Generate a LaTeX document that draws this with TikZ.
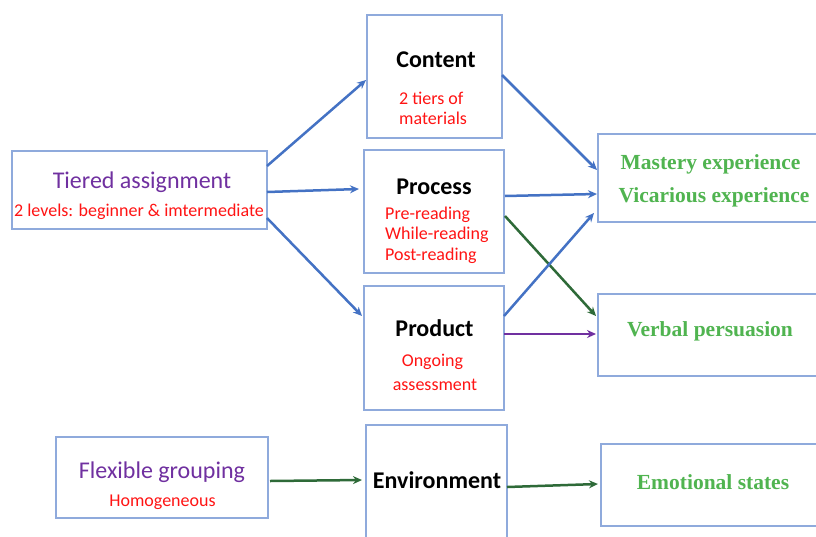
\documentclass[tikz,border=0pt]{standalone}
\usepackage{fontspec}
\setmainfont{Carlito}
\newfontfamily\greenserif{Liberation Serif}
\usetikzlibrary{arrows.meta}
\definecolor{boxblue}{RGB}{143,170,220}
\definecolor{arrblue}{RGB}{68,114,196}
\definecolor{darkgr}{RGB}{46,106,56}
\definecolor{purp}{RGB}{112,48,160}
\definecolor{redt}{RGB}{255,20,20}
\definecolor{greent}{RGB}{80,180,80}
\tikzset{
  box/.style={draw=boxblue, line width=1.4pt, inner sep=0pt, outer sep=0pt},
  arr/.style={-{Stealth[length=9pt,width=8pt]}, line width=2.5pt},
  head/.style={font=\fontsize{24}{28}\selectfont\bfseries, text=black, inner sep=0pt},
  lead/.style={font=\fontsize{24}{28}\selectfont, text=purp, inner sep=0pt},
  sub/.style={font=\fontsize{18}{21}\selectfont, text=redt, inner sep=0pt},
  outc/.style={font=\fontsize{21.5}{25}\selectfont\greenserif\bfseries, text=greent, inner sep=0pt}
}
\begin{document}
\begin{tikzpicture}[x=1pt,y=-1pt]
\useasboundingbox[fill=white] (0,0) rectangle (816,536);
\clip (0,0) rectangle (816,536);
% boxes
\node[box, minimum width=255pt, minimum height=78pt] (tiered) at (139.5,190) {};
\node[box, minimum width=212pt, minimum height=81pt] (flex) at (162,477.5) {};
\node[box, minimum width=135pt, minimum height=123pt] (content) at (434.5,76.5) {};
\node[box, minimum width=140pt, minimum height=123pt] (process) at (434,211.5) {};
\node[box, minimum width=140pt, minimum height=124pt] (product) at (434,348) {};
\node[box, minimum width=141pt, minimum height=135pt] (env) at (436.5,492.5) {};
\node[box, minimum width=232pt, minimum height=88pt] (mastery) at (714,178) {};
\node[box, minimum width=232pt, minimum height=82pt] (verbal) at (714,335) {};
\node[box, minimum width=229pt, minimum height=82pt] (emot) at (715.5,485) {};
% texts
\node[lead] (t1) at (142,182) {Tiered assignment};
\node[sub] (t2) at (139,212) {2 levels: beginner \& imtermediate};
\node[head] (c1) at (436,60) {Content};
\node[sub, anchor=west] (c2) at (399,98) {2 tiers of};
\node[sub, anchor=west] (c3) at (399,118) {materials};
\node[head] (p1) at (434,187) {Process};
\node[sub, anchor=west] (p2) at (385,215) {Pre-reading};
\node[sub, anchor=west] (p3) at (385,235) {While-reading};
\node[sub, anchor=west] (p4) at (385,256) {Post-reading};
\node[head] (r1) at (434.5,328) {Product};
\node[sub] (r2) at (432.5,362) {Ongoing};
\node[sub] (r3) at (435,385) {assessment};
\node[head] (e1) at (437,480) {Environment};
\node[lead] (f1) at (162,472) {Flexible grouping};
\node[sub] (f2) at (162.5,502) {Homogeneous};
\node[outc] (m1) at (710.5,164) {Mastery experience};
\node[outc] (m2) at (714,197) {Vicarious experience};
\node[outc] (v1) at (710,331) {Verbal persuasion};
\node[outc] (s1) at (713,482) {Emotional states};
% connectors
\draw[arr, arrblue] ([yshift=24pt]tiered.east) -- ([xshift=-1pt,yshift=-3.5pt]content.west);
\draw[arr, arrblue] ([yshift=-2pt]tiered.east) -- ([xshift=-5pt,yshift=22.5pt]process.west);
\draw[arr, arrblue] ([yshift=-28pt]tiered.east) -- ([xshift=-2pt,yshift=32pt]product.west);
\draw[arr, arrblue] ([yshift=1.5pt]content.east) -- ([xshift=-1pt,yshift=8pt]mastery.west);
\draw[arr, arrblue] ([xshift=1pt,yshift=15.5pt]process.east) -- ([xshift=-1pt,yshift=-16pt]mastery.west);
\draw[arr, darkgr] ([xshift=1pt,yshift=-4.5pt]process.east) -- ([xshift=-2pt,yshift=19pt]verbal.west);
\draw[arr, arrblue] ([yshift=32pt]product.east) -- ([xshift=-4pt,yshift=-35pt]mastery.west);
\draw[arr, purp] ([yshift=14pt]product.east) -- ([xshift=-2pt,yshift=1pt]verbal.west);
\draw[arr, darkgr] ([xshift=2pt,yshift=-3.5pt]flex.east) -- ([xshift=-4pt,yshift=12.5pt]env.west);
\draw[arr, darkgr] ([yshift=5.5pt]env.east) -- ([xshift=-3pt,yshift=1pt]emot.west);
\end{tikzpicture}
\end{document}
